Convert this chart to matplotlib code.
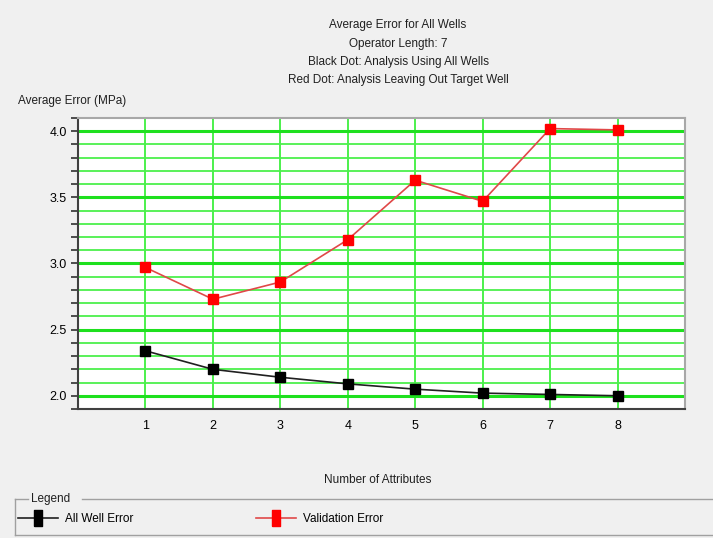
import matplotlib
matplotlib.use("Agg")
import matplotlib.pyplot as plt
from matplotlib.lines import Line2D
from matplotlib.ticker import MultipleLocator, FixedLocator

plt.rcParams['font.family'] = ['Liberation Sans', 'DejaVu Sans']

# Data
n_attributes = [1, 2, 3, 4, 5, 6, 7, 8]
all_well_error = [2.34, 2.20, 2.14, 2.09, 2.05, 2.02, 2.01, 2.00]
validation_error = [2.97, 2.73, 2.86, 3.18, 3.63, 3.47, 4.02, 4.01]
y_tick_labels = ["2.0", "2.5", "3.0", "3.5", "4.0"]
title_lines = ["Average Error for All Wells",
               "Operator Length: 7",
               "Black Dot: Analysis Using All Wells",
               "Red Dot: Analysis Leaving Out Target Well"]

W, H = 713, 538
fig = plt.figure(figsize=(W / 100, H / 100), dpi=100, facecolor="#f0f0f0")
ax = fig.add_axes([78 / W, 1 - 409 / H, (685 - 78) / W, (409 - 118) / H])
ax.set_facecolor("white")

ax.set_xlim(0, 9)
ax.set_ylim(1.9, 4.1)

# Grid: thin lines every 0.1, heavier every 0.5
ax.yaxis.set_major_locator(FixedLocator([2.0, 2.5, 3.0, 3.5, 4.0]))
ax.set_yticklabels(y_tick_labels)
ax.yaxis.set_minor_locator(MultipleLocator(0.1))
ax.xaxis.set_major_locator(FixedLocator(n_attributes))
ax.grid(which="major", axis="y", color="#1ee01e", linewidth=2.2, zorder=0)
ax.grid(which="minor", axis="y", color="#4cf04c", linewidth=1.3, zorder=0)
ax.grid(which="major", axis="x", color="#4cf04c", linewidth=1.4, zorder=0)
ax.set_axisbelow(True)

ax.tick_params(axis="y", which="both", direction="out", length=5, width=1.2,
               color="#303030", labelsize=9, pad=3)
ax.tick_params(axis="x", which="both", length=0, labelsize=9, pad=8)

for side in ("left", "bottom"):
    ax.spines[side].set_color("#404040")
    ax.spines[side].set_linewidth(1.5)
for side in ("top", "right"):
    ax.spines[side].set_color("#a8a8a8")
    ax.spines[side].set_linewidth(1.5)

ax.plot(n_attributes, all_well_error, color="#202020", linewidth=1.2,
        marker="s", markersize=7, markerfacecolor="black",
        markeredgecolor="black", zorder=3)
ax.plot(n_attributes, validation_error, color="#e04848", linewidth=1.2,
        marker="s", markersize=7, markerfacecolor="#ff0000",
        markeredgecolor="#ff0000", zorder=3)

# Titles
for i, line in enumerate(title_lines):
    fig.text(398 / W, 1 - (25 + i * 18.5) / H, line, ha="center", va="center",
             fontsize=8.5, color="#202020")
fig.text(18 / W, 1 - 101 / H, "Average Error (MPa)", ha="left", va="center",
         fontsize=8.5, color="#202020")
fig.text(378 / W, 1 - 480 / H, "Number of Attributes", ha="center",
         va="center", fontsize=8.5, color="#202020")

# Legend group box
box_col = "#a0a0a0"
fig.add_artist(Line2D([15 / W, 15 / W], [1 - 499 / H, 1 - 535 / H],
                      transform=fig.transFigure, color=box_col, lw=1))
fig.add_artist(Line2D([15 / W, 28 / W], [1 - 499 / H, 1 - 499 / H],
                      transform=fig.transFigure, color=box_col, lw=1))
fig.add_artist(Line2D([82 / W, 1.0], [1 - 499 / H, 1 - 499 / H],
                      transform=fig.transFigure, color=box_col, lw=1))
fig.add_artist(Line2D([15 / W, 1.0], [1 - 535 / H, 1 - 535 / H],
                      transform=fig.transFigure, color=box_col, lw=1))
fig.text(31 / W, 1 - 499 / H, "Legend", ha="left", va="center",
         fontsize=8.5, color="#202020")

# Legend keys: line with a narrow upright block marker
bar_marker = [(-0.45, -1), (0.45, -1), (0.45, 1), (-0.45, 1), (-0.45, -1)]
h1 = Line2D([], [], color="#202020", lw=1.2, marker=bar_marker,
            markersize=12, markerfacecolor="black", markeredgecolor="black",
            label="All Well Error")
h2 = Line2D([], [], color="#e04848", lw=1.2, marker=bar_marker,
            markersize=12, markerfacecolor="#ff0000", markeredgecolor="#ff0000",
            label="Validation Error")
leg_style = dict(frameon=False, fontsize=8.5, handlelength=3.4,
                 handletextpad=0.6, borderaxespad=0, borderpad=0)
fig.legend(handles=[h1], loc="center left",
           bbox_to_anchor=(18 / W, 1 - 519 / H), **leg_style)
fig.legend(handles=[h2], loc="center left",
           bbox_to_anchor=(256 / W, 1 - 519 / H), **leg_style)

fig.savefig("out.png", dpi=100, facecolor=fig.get_facecolor())
